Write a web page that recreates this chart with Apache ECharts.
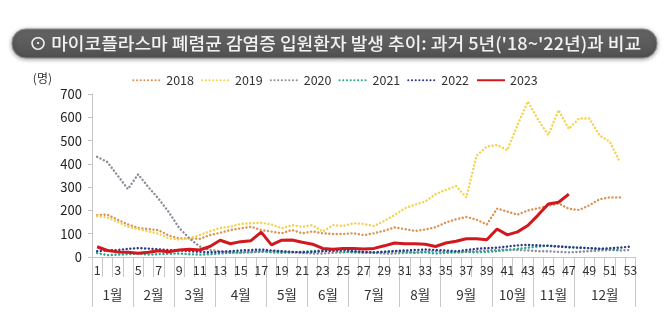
<!DOCTYPE html>
<html>
<head>
<meta charset="utf-8">
<script src="https://cdn.jsdelivr.net/npm/echarts@6/dist/echarts.min.js"></script>
<style>
html,body{margin:0;padding:0;background:#fff;}
#c{width:670px;height:335px;}
</style>
</head>
<body>
<div id="c"></div>
<script>
// ---- data ----
var titleText = "⊙ 마이코플라스마 폐렴균 감염증 입원환자 발생 추이: 과거 5년('18~'22년)과 비교";
var weeks = [];
for (var i = 1; i <= 53; i++) weeks.push(String(i));
var monthNames = ['1월','2월','3월','4월','5월','6월','7월','8월','9월','10월','11월','12월'];
var monthWeekCounts = [4,4,4,5,4,4,5,4,5,4,4,6];
var yTicks = [0,100,200,300,400,500,600,700];
var seriesNames = ['2018','2019','2020','2021','2022','2023'];

var y2018 = [180,182,160,140,125,120,115,92,80,80,78,94,104,116,123,130,116,109,102,116,102,110,102,99,99,102,94,102,113,127,120,112,118,128,148,162,172,160,140,208,195,182,200,209,220,230,207,202,222,248,256,256];
var y2019 = [175,170,150,130,120,110,100,80,75,80,95,110,125,130,142,145,147,140,123,137,130,137,109,137,133,145,142,133,155,180,209,225,238,270,288,305,256,435,474,481,459,567,668,590,524,631,550,595,595,522,495,405];
var y2020 = [430,408,350,292,355,300,250,192,125,80,45,30,25,20,18,20,22,25,22,20,18,15,15,18,20,22,20,18,15,15,18,20,22,25,22,20,22,25,28,30,32,30,28,25,25,22,20,22,25,28,30,28,30];
var y2021 = [17,8,10,12,15,10,12,14,15,12,10,12,15,18,20,22,25,20,18,20,22,25,28,25,22,20,18,20,22,25,22,18,20,15,18,20,22,20,22,25,30,35,40,45,48,45,42,40,38,35,32,30];
var y2022 = [25,28,30,35,38,36,33,30,28,25,22,20,22,25,28,30,32,28,25,22,20,22,25,28,30,25,22,20,22,25,28,30,32,30,28,25,30,35,38,40,45,50,52,50,48,45,42,40,38,35,38,40,45];
var y2023 = [44,28,22,20,16,20,27,23,30,33,30,45,72,57,66,70,107,52,72,73,63,55,37,33,37,37,34,37,48,60,57,57,55,45,60,68,78,78,74,120,95,108,135,180,228,235,270];

// ---- month axis (half-week resolution) ----
var monthAxisData = [];
for (var k = 0; k <= 106; k++) monthAxisData.push('');
var boundaryIdx = {0: true};
var start = 0;
for (var m = 0; m < monthNames.length; m++) {
  var n = monthWeekCounts[m];
  monthAxisData[2 * start + n] = monthNames[m];
  start += n;
  boundaryIdx[2 * start] = true;
}

var colors = ['#DB9252', '#F3D24E', '#8E8B98', '#2FA58C', '#2B3A8C', '#D0181E'];
var FONT = '"Noto Sans CJK KR", "Noto Sans", sans-serif';

function mkSeries(idx, data) {
  var solid = seriesNames[idx] === '2023';
  return {
    name: seriesNames[idx],
    type: 'line',
    data: data,
    xAxisIndex: 0,
    yAxisIndex: 0,
    showSymbol: false,
    symbol: 'none',
    smooth: false,
    z: solid ? 10 : 2 + idx,
    lineStyle: solid ? { color: colors[idx], width: 3 } :
      { color: colors[idx], width: 2.4, type: [0.1, 3.6], cap: 'round' },
    itemStyle: { color: colors[idx] }
  };
}

var chart = echarts.init(document.getElementById('c'), null, { renderer: 'canvas' });
chart.setOption({
  animation: false,
  backgroundColor: '#ffffff',
  textStyle: { fontFamily: FONT },
  graphic: [
    {
      type: 'rect',
      shape: { x: 12, y: 29, width: 645, height: 29, r: 14 },
      style: {
        fill: new echarts.graphic.LinearGradient(0, 0, 0, 1, [
          { offset: 0, color: '#666666' }, { offset: 1, color: '#505050' }
        ]),
        stroke: '#8a8a8a', lineWidth: 1,
        shadowBlur: 4, shadowColor: 'rgba(0,0,0,0.35)', shadowOffsetY: 1
      },
      z: 10
    },
    {
      type: 'text',
      x: 29, y: 44,
      scaleX: 1.065,
      style: {
        text: titleText,
        fill: '#f2f2f2',
        font: '500 17px ' + FONT,
        verticalAlign: 'middle'
      },
      z: 11
    }
  ],
  legend: {
    top: 69,
    left: 'center',
    itemWidth: 28,
    itemHeight: 10,
    itemGap: 7,
    itemStyle: { opacity: 0 },
    textStyle: { fontSize: 12.5, color: '#333', fontFamily: FONT },
    data: seriesNames
  },
  grid: { left: 92, right: 34.5, top: 94, bottom: 78, containLabel: false },
  xAxis: [
    {
      type: 'category',
      data: weeks,
      position: 'bottom',
      boundaryGap: true,
      axisLine: { show: true, lineStyle: { color: '#c4c4c4', width: 1 } },
      axisTick: { show: true, length: 20, interval: 0, lineStyle: { color: '#c8c8c8' } },
      axisLabel: { interval: 1, margin: 7, fontSize: 12.5, color: '#333', fontFamily: FONT },
      splitLine: { show: false }
    },
    {
      type: 'category',
      data: monthAxisData,
      position: 'bottom',
      boundaryGap: false,
      axisLine: { show: false },
      axisTick: {
        show: true, length: 50,
        interval: function (index) { return !!boundaryIdx[index]; },
        lineStyle: { color: '#c8c8c8' }
      },
      axisLabel: {
        interval: function (index, value) { return value !== ''; },
        margin: 31, fontSize: 13.5, color: '#333', fontFamily: FONT
      },
      splitLine: { show: false }
    }
  ],
  yAxis: {
    type: 'value',
    min: yTicks[0],
    max: yTicks[yTicks.length - 1],
    interval: 100,
    name: '(명)',
    nameLocation: 'end',
    nameGap: 10,
    nameTextStyle: { align: 'right', padding: [0, 40, 0, 0], fontSize: 12, color: '#333', fontFamily: FONT },
    axisLine: { show: true, lineStyle: { color: '#c4c4c4' } },
    axisTick: { show: true, length: 4, lineStyle: { color: '#c4c4c4' } },
    axisLabel: { margin: 10, fontSize: 13, color: '#222', fontFamily: FONT },
    splitLine: { show: false }
  },
  series: [
    mkSeries(0, y2018),
    mkSeries(1, y2019),
    mkSeries(2, y2020),
    mkSeries(3, y2021),
    mkSeries(4, y2022),
    mkSeries(5, y2023)
  ]
});
</script>
</body>
</html>
